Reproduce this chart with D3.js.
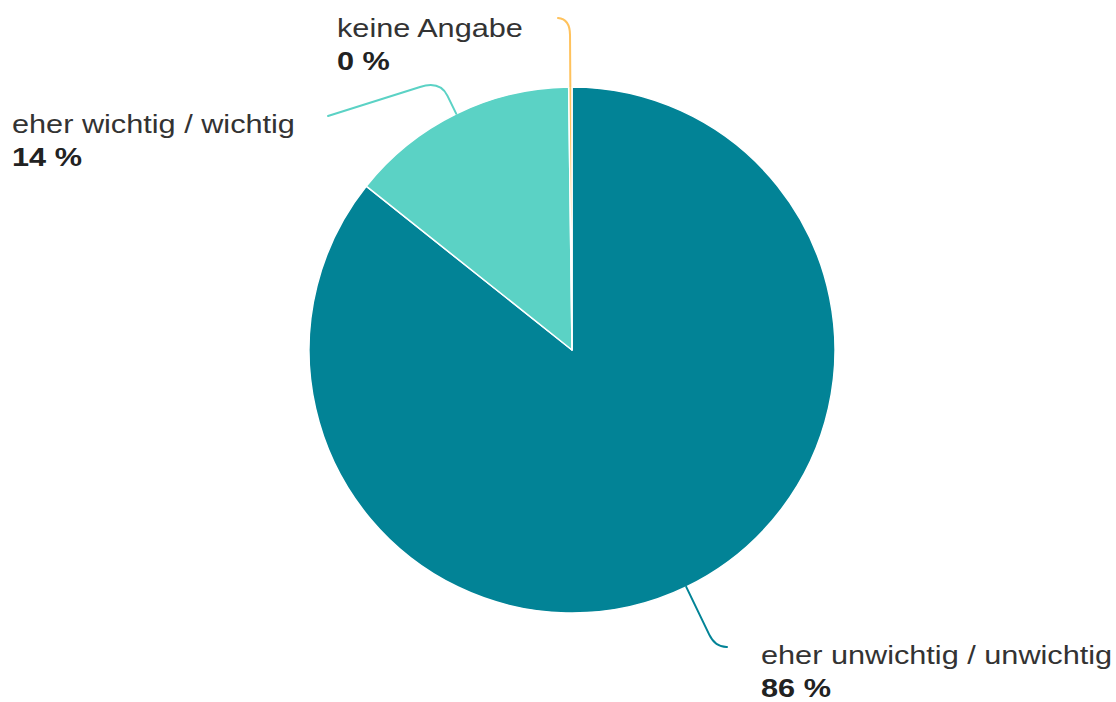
<!DOCTYPE html>
<html>
<head>
<meta charset="utf-8">
<script src="https://cdn.jsdelivr.net/npm/d3@7"></script>
<style>
  html, body { margin: 0; padding: 0; background: #fff; }
  svg { display: block; }
  text { font-family: "Liberation Sans", Arial, sans-serif; }
</style>
</head>
<body>
<svg id="chart" width="1116" height="702"></svg>
<script>
// Answer shares in percent
const categories = ["eher unwichtig / unwichtig", "eher wichtig / wichtig", "keine Angabe"];
const values = [85.7, 14.1, 0.2];
const colors = ["#028396", "#5bd2c5", "#ffc25c"];

const width = 1116, height = 702;
const cx = 572, cy = 350, radius = 263;

const svg = d3.select("#chart");
const g = svg.append("g").attr("transform", `translate(${cx},${cy})`);

const pie = d3.pie().sort(null).value(d => d.value);
const arcs = pie(categories.map((c, i) => ({ name: c, value: values[i], color: colors[i] })));
const arc = d3.arc().innerRadius(0).outerRadius(radius);

g.selectAll("path.slice")
  .data(arcs)
  .join("path")
  .attr("class", "slice")
  .attr("d", arc)
  .attr("fill", d => d.data.color)
  .attr("stroke", "#fff")
  .attr("stroke-width", 1.5)
  .attr("stroke-linejoin", "round");

// Leader geometry per slice (radial run, bend control radius, bend end, line end)
// and the baseline start of the two-line label, relative to the pie centre.
const labelLayout = [
  { r1: 316, r2: 330, bendEnd: [155, 297], end: [155, 297], text: [189, 314] },
  { r1: 283, r2: 300, bendEnd: [-152, -263], end: [-244, -234], text: [-560, -217] },
  { r1: 315, r2: 331, bendEnd: [-14, -332], end: [-14, -332], text: [-235, -313] }
];
const textScaleX = 1.18;

function polar(angle, r) {
  return [Math.sin(angle) * r, -Math.cos(angle) * r];
}

arcs.forEach((d, i) => {
  const L = labelLayout[i];
  const mid = (d.startAngle + d.endAngle) / 2;
  const a = polar(mid, radius);
  const b = polar(mid, L.r1);
  const c = polar(mid, L.r2);
  const p = d3.path();
  p.moveTo(a[0], a[1]);
  p.lineTo(b[0], b[1]);
  p.quadraticCurveTo(c[0], c[1], L.bendEnd[0], L.bendEnd[1]);
  if (L.end[0] !== L.bendEnd[0] || L.end[1] !== L.bendEnd[1]) p.lineTo(L.end[0], L.end[1]);
  g.append("path")
    .attr("d", p.toString())
    .attr("fill", "none")
    .attr("stroke", d.data.color)
    .attr("stroke-width", 2)
    .attr("stroke-linecap", "round")
    .attr("stroke-linejoin", "round");

  const t = g.append("text")
    .attr("transform", `translate(${L.text[0]},${L.text[1]}) scale(${textScaleX},1)`)
    .attr("font-size", 26);
  t.append("tspan")
    .attr("x", 0)
    .attr("fill", "#333")
    .text(d.data.name);
  t.append("tspan")
    .attr("x", 0)
    .attr("dy", 33)
    .attr("font-weight", "bold")
    .attr("fill", "#222")
    .text(`${Math.round(d.data.value)} %`);
});
</script>
</body>
</html>
